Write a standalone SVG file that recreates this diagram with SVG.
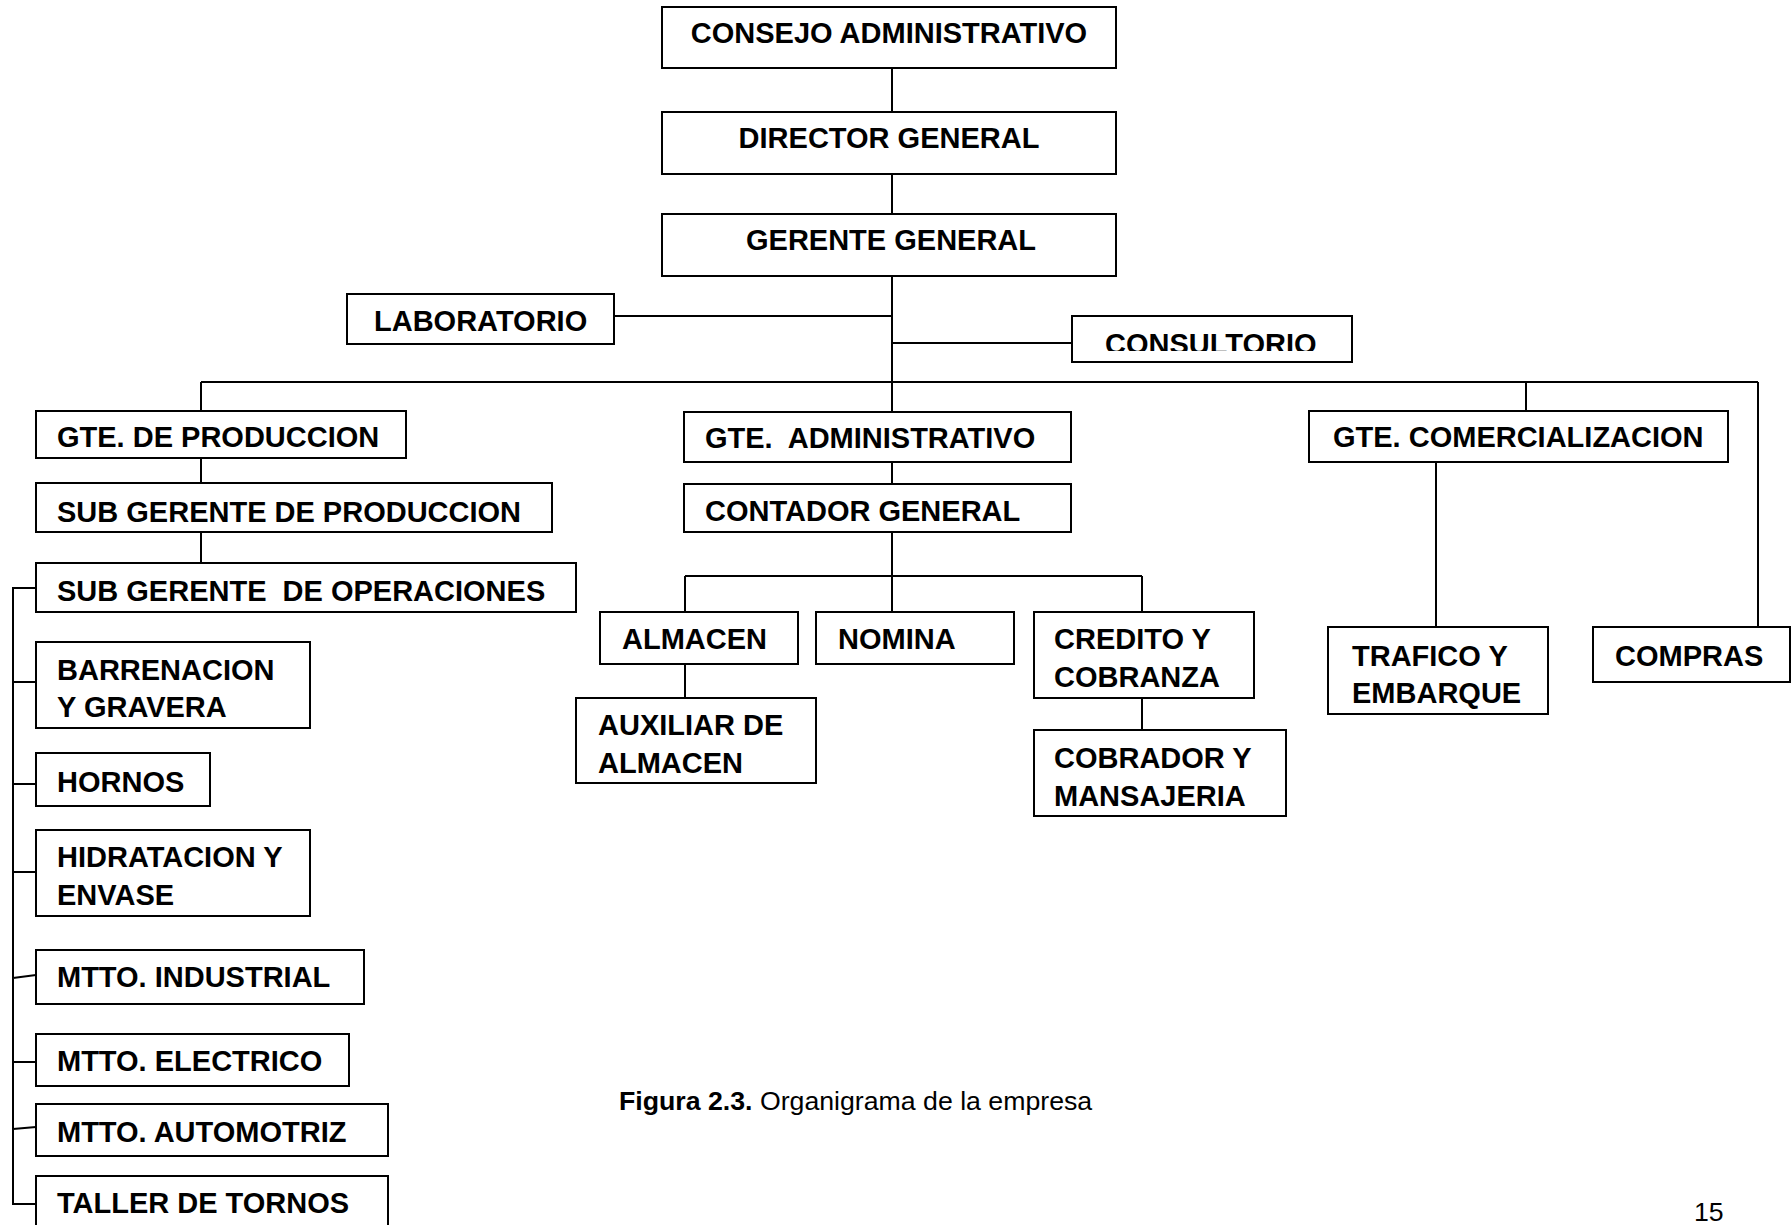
<svg xmlns="http://www.w3.org/2000/svg" width="1792" height="1225" viewBox="0 0 1792 1225">
<style>
.box{fill:#fff;stroke:#000;stroke-width:2}
.lbl{font-family:"Liberation Sans",Arial,sans-serif;font-weight:bold;font-size:29px;fill:#000;white-space:pre}
.conn{stroke:#000;stroke-width:2;fill:none}
.cap{font-family:"Liberation Sans",Arial,sans-serif;font-size:26.7px;fill:#000}
</style>
<defs>
<clipPath id="clipConsult"><rect x="1072" y="316" width="280" height="35"/></clipPath>
</defs>
<rect width="1792" height="1225" fill="#fff"/>
<g id="connectors">
<path class="conn" d="M892 68V112M892 174V214M892 276V412M614 316H892M892 343H1072"/>
<path class="conn" d="M201 382H1758M201 382V411M1526 382V411M1758 382V627"/>
<path class="conn" d="M201 458V483M201 532V563"/>
<path class="conn" d="M36 588H13V1204H36M13 682H36M13 784H36M13 872H36M13 978L36 975M13 1062H36M13 1129L36 1127"/>
<path class="conn" d="M892 462V484M892 532V612M685 576H1142M685 576V612M1142 576V612M685 664V698M1142 698V730"/>
<path class="conn" d="M1436 462V627"/>
</g>
<g id="consejo"><rect class="box" x="662" y="7" width="454" height="61"/><text class="lbl" x="889" y="43" text-anchor="middle" font-size="29.5">CONSEJO ADMINISTRATIVO</text></g>
<g id="director"><rect class="box" x="662" y="112" width="454" height="62"/><text class="lbl" x="889" y="148" text-anchor="middle">DIRECTOR GENERAL</text></g>
<g id="gerente"><rect class="box" x="662" y="214" width="454" height="62"/><text class="lbl" x="891" y="250" text-anchor="middle">GERENTE GENERAL</text></g>
<g id="laboratorio"><rect class="box" x="347" y="294" width="267" height="50"/><text class="lbl" x="374" y="331">LABORATORIO</text></g>
<g id="consultorio"><rect class="box" x="1072" y="316" width="280" height="46"/><text class="lbl" x="1105" y="354" clip-path="url(#clipConsult)">CONSULTORIO</text></g>
<g id="gte-produccion"><rect class="box" x="36" y="411" width="370" height="47"/><text class="lbl" x="57" y="447">GTE. DE PRODUCCION</text></g>
<g id="sub-produccion"><rect class="box" x="36" y="483" width="516" height="49"/><text class="lbl" x="57" y="522">SUB GERENTE DE PRODUCCION</text></g>
<g id="sub-operaciones"><rect class="box" x="36" y="563" width="540" height="49"/><text class="lbl" x="57" y="601" xml:space="preserve">SUB GERENTE  DE OPERACIONES</text></g>
<g id="barrenacion"><rect class="box" x="36" y="642" width="274" height="86"/><text class="lbl" x="57" y="680">BARRENACION</text><text class="lbl" x="57" y="717">Y GRAVERA</text></g>
<g id="hornos"><rect class="box" x="36" y="753" width="174" height="53"/><text class="lbl" x="57" y="792">HORNOS</text></g>
<g id="hidratacion"><rect class="box" x="36" y="830" width="274" height="86"/><text class="lbl" x="57" y="867">HIDRATACION Y</text><text class="lbl" x="57" y="905">ENVASE</text></g>
<g id="mtto-industrial"><rect class="box" x="36" y="950" width="328" height="54"/><text class="lbl" x="57" y="987">MTTO. INDUSTRIAL</text></g>
<g id="mtto-electrico"><rect class="box" x="36" y="1034" width="313" height="52"/><text class="lbl" x="57" y="1071">MTTO. ELECTRICO</text></g>
<g id="mtto-automotriz"><rect class="box" x="36" y="1104" width="352" height="52"/><text class="lbl" x="57" y="1142">MTTO. AUTOMOTRIZ</text></g>
<g id="taller-tornos"><rect class="box" x="36" y="1176" width="352" height="60"/><text class="lbl" x="57" y="1213">TALLER DE TORNOS</text></g>
<g id="gte-administrativo"><rect class="box" x="684" y="412" width="387" height="50"/><text class="lbl" x="705" y="448" xml:space="preserve">GTE.  ADMINISTRATIVO</text></g>
<g id="contador"><rect class="box" x="684" y="484" width="387" height="48"/><text class="lbl" x="705" y="521">CONTADOR GENERAL</text></g>
<g id="almacen"><rect class="box" x="600" y="612" width="198" height="52"/><text class="lbl" x="622" y="649">ALMACEN</text></g>
<g id="auxiliar"><rect class="box" x="576" y="698" width="240" height="85"/><text class="lbl" x="598" y="735">AUXILIAR DE</text><text class="lbl" x="598" y="773">ALMACEN</text></g>
<g id="nomina"><rect class="box" x="816" y="612" width="198" height="52"/><text class="lbl" x="838" y="649">NOMINA</text></g>
<g id="credito"><rect class="box" x="1034" y="612" width="220" height="86"/><text class="lbl" x="1054" y="649">CREDITO Y</text><text class="lbl" x="1054" y="687">COBRANZA</text></g>
<g id="cobrador"><rect class="box" x="1034" y="730" width="252" height="86"/><text class="lbl" x="1054" y="768">COBRADOR Y</text><text class="lbl" x="1054" y="806">MANSAJERIA</text></g>
<g id="gte-comercializacion"><rect class="box" x="1309" y="411" width="419" height="51"/><text class="lbl" x="1333" y="447">GTE. COMERCIALIZACION</text></g>
<g id="trafico"><rect class="box" x="1328" y="627" width="220" height="87"/><text class="lbl" x="1352" y="666">TRAFICO Y</text><text class="lbl" x="1352" y="703">EMBARQUE</text></g>
<g id="compras"><rect class="box" x="1593" y="627" width="197" height="55"/><text class="lbl" x="1615" y="666">COMPRAS</text></g>
<text class="cap" x="619" y="1110"><tspan font-weight="bold">Figura 2.3.</tspan> Organigrama de la empresa</text>
<text class="cap" x="1694" y="1221" font-size="26">15</text>
</svg>
